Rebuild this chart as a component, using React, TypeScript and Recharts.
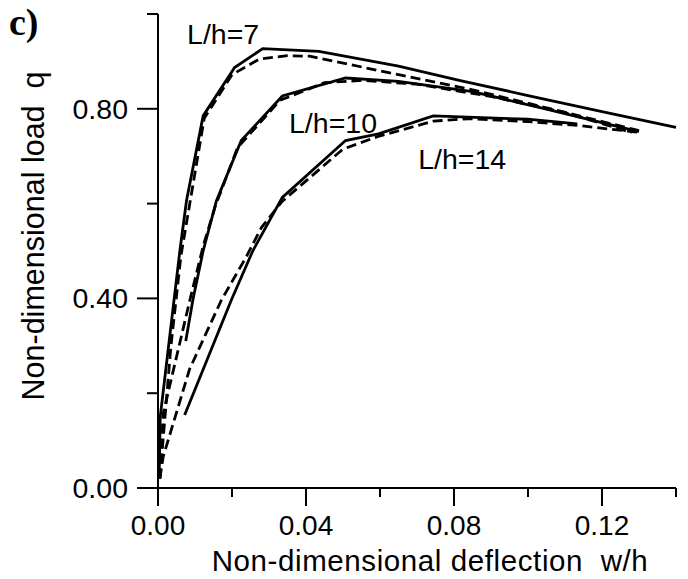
import React from "react";
import { LineChart, Line, XAxis, YAxis, ReferenceDot } from "recharts";

// deflection w/h vs load q, solid = one model, dashed = the other
const lh7Solid = [
  { w: 0.0003, q: 0.02 }, { w: 0.0006, q: 0.15 }, { w: 0.0059, q: 0.5 },
  { w: 0.0077, q: 0.606 }, { w: 0.0122, q: 0.785 }, { w: 0.0207, q: 0.887 },
  { w: 0.0283, q: 0.927 }, { w: 0.0435, q: 0.921 }, { w: 0.065, q: 0.89 },
  { w: 0.082, q: 0.859 }, { w: 0.1, q: 0.828 }, { w: 0.12, q: 0.794 },
  { w: 0.14, q: 0.761 },
];
const lh7Dashed = [
  { w: 0.0005, q: 0.02 }, { w: 0.0035, q: 0.3 }, { w: 0.0062, q: 0.49 },
  { w: 0.0125, q: 0.78 }, { w: 0.02, q: 0.872 }, { w: 0.0274, q: 0.905 },
  { w: 0.035, q: 0.912 }, { w: 0.041, q: 0.911 }, { w: 0.065, q: 0.872 },
  { w: 0.085, q: 0.84 }, { w: 0.103, q: 0.806 }, { w: 0.13, q: 0.754 },
];
const lh10Solid = [
  { w: 0.0075, q: 0.31 }, { w: 0.0095, q: 0.4 }, { w: 0.0122, q: 0.5 },
  { w: 0.0158, q: 0.606 }, { w: 0.0225, q: 0.733 }, { w: 0.0336, q: 0.827 },
  { w: 0.0507, q: 0.865 }, { w: 0.065, q: 0.858 }, { w: 0.085, q: 0.836 },
  { w: 0.103, q: 0.803 }, { w: 0.13, q: 0.752 },
];
const lh10Dashed = [
  { w: 0.0005, q: 0.02 }, { w: 0.0014, q: 0.157 }, { w: 0.0086, q: 0.396 },
  { w: 0.0122, q: 0.51 }, { w: 0.0155, q: 0.595 }, { w: 0.0215, q: 0.718 },
  { w: 0.033, q: 0.818 }, { w: 0.045, q: 0.855 }, { w: 0.055, q: 0.86 },
  { w: 0.07, q: 0.852 }, { w: 0.09, q: 0.826 }, { w: 0.11, q: 0.792 },
  { w: 0.128, q: 0.75 },
];
const lh14Solid = [
  { w: 0.0072, q: 0.154 }, { w: 0.0198, q: 0.396 }, { w: 0.0256, q: 0.5 },
  { w: 0.0336, q: 0.613 }, { w: 0.0507, q: 0.733 }, { w: 0.0596, q: 0.747 },
  { w: 0.0744, q: 0.785 }, { w: 0.0999, q: 0.778 }, { w: 0.1133, q: 0.768 },
];
const lh14Dashed = [
  { w: 0.0005, q: 0.02 }, { w: 0.0014, q: 0.066 }, { w: 0.0085, q: 0.25 },
  { w: 0.0171, q: 0.396 }, { w: 0.0238, q: 0.487 }, { w: 0.028, q: 0.55 },
  { w: 0.0336, q: 0.605 }, { w: 0.05, q: 0.715 }, { w: 0.0596, q: 0.742 },
  { w: 0.0744, q: 0.774 }, { w: 0.0838, q: 0.779 }, { w: 0.1, q: 0.773 },
  { w: 0.1133, q: 0.765 }, { w: 0.1303, q: 0.75 },
];

const xTicks = [0, 0.02, 0.04, 0.06, 0.08, 0.1, 0.12, 0.14];
const xMajor = [0, 0.04, 0.08, 0.12];
const yTicks = [0, 0.2, 0.4, 0.6, 0.8, 1.0];
const yMajor = [0, 0.4, 0.8];

const curveLabels = [
  { text: "L/h=7", w: 0.0176, q: 0.958 },
  { text: "L/h=10", w: 0.0473, q: 0.77 },
  { text: "L/h=14", w: 0.0822, q: 0.695 },
];

const FONT = "'Liberation Sans', Arial, Helvetica, sans-serif";
const isOn = (list: number[], v: number) => list.some((m) => Math.abs(m - v) < 1e-6);

const XTick = ({ x, y, payload }: any) => {
  const major = isOn(xMajor, payload.value);
  return (
    <g>
      <line x1={x} y1={y} x2={x} y2={y + (major ? 18 : 9)} stroke="#000" strokeWidth={2} />
      {major && (
        <text x={x} y={y + 47} textAnchor="middle" fontSize={28} fontFamily={FONT} fill="#000">
          {payload.value.toFixed(2)}
        </text>
      )}
    </g>
  );
};

const YTick = ({ x, y, payload }: any) => {
  const major = isOn(yMajor, payload.value);
  return (
    <g>
      <line x1={x} y1={y} x2={x - (major ? 21 : 11)} y2={y} stroke="#000" strokeWidth={2} />
      {major && (
        <text x={x - 30} y={y + 10} textAnchor="end" fontSize={28.5} fontFamily={FONT} fill="#000">
          {payload.value.toFixed(2)}
        </text>
      )}
    </g>
  );
};

const series = [
  { data: lh7Solid, dash: undefined },
  { data: lh7Dashed, dash: "10 5" },
  { data: lh10Solid, dash: undefined },
  { data: lh10Dashed, dash: "10 5" },
  { data: lh14Solid, dash: undefined },
  { data: lh14Dashed, dash: "10 5" },
];

export default function App() {
  return (
    <div style={{ position: "absolute", left: 0, top: 0, width: 688, height: 579, background: "#fff" }}>
      <div
        style={{
          position: "absolute", left: 9, top: 2, fontFamily: "'Liberation Serif', 'Times New Roman', serif",
          fontWeight: "bold", fontSize: 38, lineHeight: "40px",
        }}
      >
        c)
      </div>
      <LineChart width={688} height={579} margin={{ top: 14, right: 12, bottom: 0, left: 0 }}>
        <XAxis
          dataKey="w"
          type="number"
          domain={[0, 0.14]}
          ticks={xTicks}
          tick={<XTick />}
          tickLine={false}
          tickSize={0}
          tickMargin={0}
          interval={0}
          height={91}
          axisLine={{ stroke: "#000", strokeWidth: 2 }}
          label={{
            content: () => (
              <text
                x={430}
                y={571}
                textAnchor="middle"
                fontSize={29.5}
                letterSpacing={0.6}
                fontFamily={FONT}
                fill="#000"
                style={{ whiteSpace: "pre" }}
              >
                Non-dimensional deflection  w/h
              </text>
            ),
          }}
        />
        <YAxis
          dataKey="q"
          type="number"
          domain={[0, 1]}
          ticks={yTicks}
          tick={<YTick />}
          tickLine={false}
          tickSize={0}
          tickMargin={0}
          interval={0}
          width={158}
          axisLine={{ stroke: "#000", strokeWidth: 2 }}
          label={{
            content: () => (
              <text
                x={44}
                y={236}
                textAnchor="middle"
                fontSize={30.5}
                fontFamily={FONT}
                fill="#000"
                transform="rotate(-90 44 236)"
                style={{ whiteSpace: "pre" }}
              >
                Non-dimensional load  q
              </text>
            ),
          }}
        />
        {series.map((s, i) => (
          <Line
            key={i}
            data={s.data}
            dataKey="q"
            type="linear"
            stroke="#000"
            strokeWidth={2.8}
            strokeDasharray={s.dash}
            dot={false}
            activeDot={false}
            isAnimationActive={false}
          />
        ))}
        {curveLabels.map((c) => (
          <ReferenceDot
            key={c.text}
            x={c.w}
            y={c.q}
            r={0}
            stroke="none"
            fill="none"
            label={{ value: c.text, position: "center", fontSize: 28.5, fontFamily: FONT, fill: "#000" }}
          />
        ))}
      </LineChart>
    </div>
  );
}
